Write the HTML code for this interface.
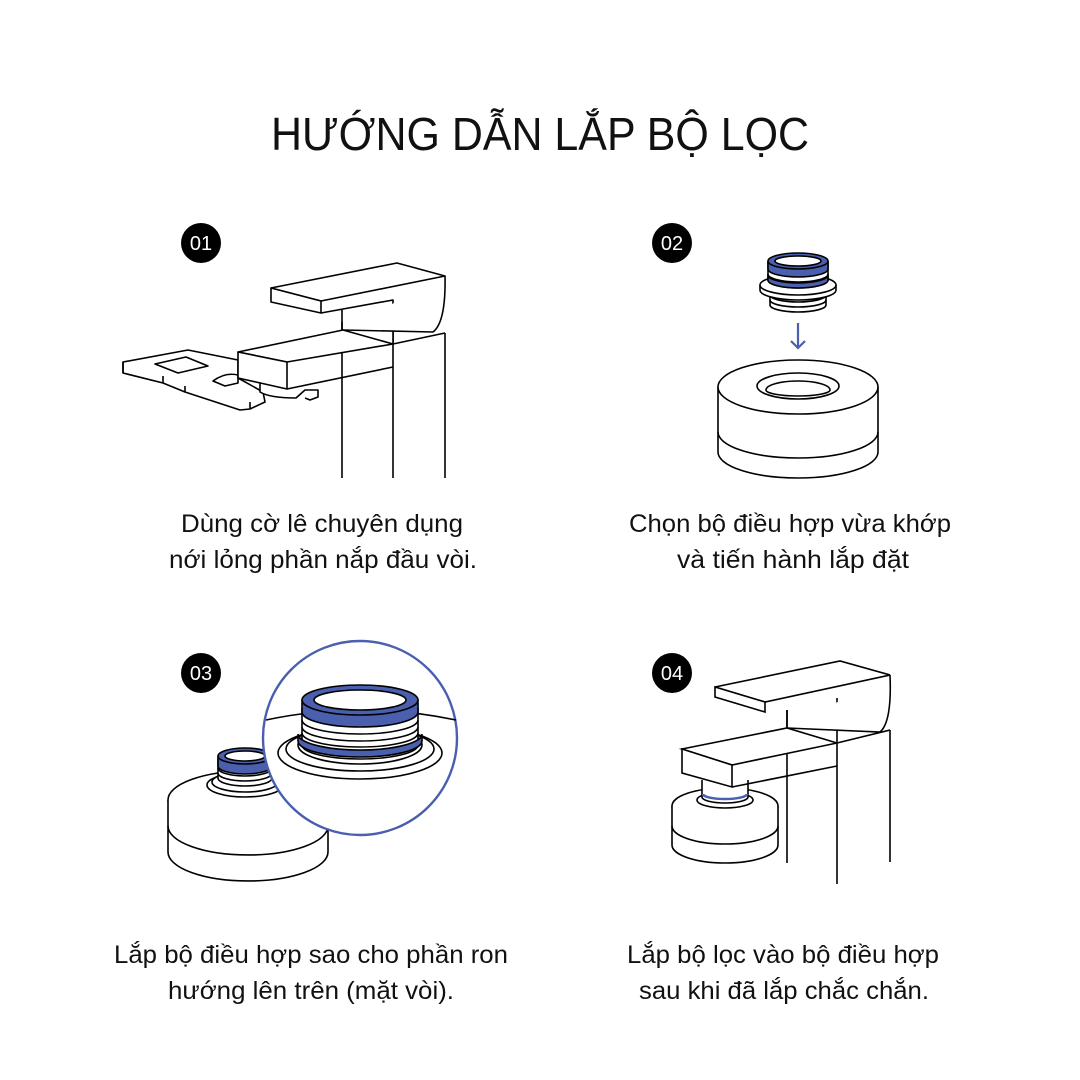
<!DOCTYPE html>
<html><head><meta charset="utf-8"><style>
html,body{margin:0;padding:0;background:#fff;}
svg{display:block}
text{font-family:"Liberation Sans","DejaVu Sans",sans-serif;fill:#111}
</style></head><body>
<svg width="1080" height="1080" viewBox="0 0 1080 1080" xmlns="http://www.w3.org/2000/svg">
<rect width="1080" height="1080" fill="#fff"/>
<text x="540" y="150" font-size="46" text-anchor="middle" textLength="538" lengthAdjust="spacingAndGlyphs">HƯỚNG DẪN LẮP BỘ LỌC</text>

<g font-size="20" text-anchor="middle">
<circle cx="201" cy="243" r="20" fill="#000"/><text x="201" y="250" style="fill:#fff">01</text>
<circle cx="672" cy="243" r="20" fill="#000"/><text x="672" y="250" style="fill:#fff">02</text>
<circle cx="201" cy="673" r="20" fill="#000"/><text x="201" y="680" style="fill:#fff">03</text>
<circle cx="672" cy="673" r="20" fill="#000"/><text x="672" y="680" style="fill:#fff">04</text>
</g>

<g fill="#fff" stroke="#000" stroke-width="1.6" stroke-linejoin="round">
<!-- STEP 1 faucet -->
<line x1="342" y1="310" x2="342" y2="478"/>
<line x1="393" y1="315" x2="393" y2="478"/>
<line x1="445" y1="333" x2="445" y2="478"/>
<path d="M393 344 L445 333"/>
<path d="M321 313 L393 300 L393 344"/>
<path d="M445 276 Q446 322 433 332 L343 330"/>
<path d="M342 310 L342 330"/>
<polygon points="271,288 397,263 445,276 321,301"/>
<polygon points="271,288 321,301 321,313 271,302"/>
<!-- wrench -->
<path d="M123 362 L188 350 L238 360 L238 378 L263 392 L265 402 L250 409 L240 410 L185 392 L163 383 L123 373 Z"/>
<path d="M123 362 L123 373 M163 376 L163 383 M185 386 L185 392 M250 402 L250 409"/>
<polygon points="155,364 186,357 208,366 178,373"/>
<path d="M213 381 Q225 372 238 375 L238 383 L225 386 Z"/>
<path d="M260 383 L260 392 Q270 398 296 398 L305 390 L318 390 L318 397 L310 400 L305 398"/>
<polygon points="238,352 343,330 393,344 287,362"/>
<polygon points="238,352 287,362 287,389 238,378"/>
<path d="M287 389 L393 367"/>

<!-- STEP 2 puck -->
<path d="M718 387 L718 452 A80 26 0 0 0 878 452 L878 387"/>
<path d="M718 432 A80 26 0 0 0 878 432" fill="none"/>
<ellipse cx="798" cy="387" rx="80" ry="27"/>
<ellipse cx="798" cy="386" rx="41" ry="13"/>
<path d="M766 390 A32 9 0 0 1 830 390 A32 6 0 0 1 766 390 Z"/>
<!-- adapter -->
<path d="M770 290 L770 305 A28 7 0 0 0 826 305 L826 290"/>
<path d="M770 295 A28 7 0 0 0 826 295 M770 300 A28 7 0 0 0 826 300" fill="none"/>
<path d="M760 285 L760 290 A38 10 0 0 0 836 290 L836 285"/>
<ellipse cx="798" cy="285" rx="38" ry="10"/>
<path d="M768 262 L768 280 A30 8 0 0 0 828 280 L828 262"/>
<path d="M768 274 A30 8 0 0 0 828 274 M768 277 A30 8 0 0 0 828 277" fill="none"/>
<path d="M768 275 A30 8 0 0 0 828 275 L828 280 A30 8 0 0 1 768 280 Z" fill="#4a5fae"/>
<path d="M768 261 L768 269 A30 8 0 0 0 828 269 L828 261" fill="#4a5fae"/>
<ellipse cx="798" cy="261" rx="30" ry="8" fill="#4a5fae"/>
<ellipse cx="798" cy="261" rx="23" ry="5"/>
</g>
<g stroke="#4a5fae" stroke-width="2.2" fill="none">
<line x1="798" y1="323" x2="798" y2="348"/>
<path d="M791 341 L798 348 L805 341"/>
</g>

<g fill="#fff" stroke="#000" stroke-width="1.6">
<!-- STEP 3 puck -->
<ellipse cx="248" cy="800" rx="80" ry="29"/>
<path d="M168 800 L168 852 A80 29 0 0 0 328 852 L328 800"/>
<path d="M168 826 A80 29 0 0 0 328 826" fill="none"/>
<ellipse cx="245" cy="785" rx="38" ry="12"/>
<ellipse cx="245" cy="782" rx="33" ry="10"/>
<path d="M218 758 L218 778 A27 8 0 0 0 272 778 L272 758"/>
<path d="M218 768 A27 8 0 0 0 272 768 M218 773 A27 8 0 0 0 272 773" fill="none"/>
<path d="M218 756 L218 766 A27 8 0 0 0 272 766 L272 756" fill="#4a5fae"/>
<ellipse cx="245" cy="756" rx="27" ry="8" fill="#4a5fae"/>
<ellipse cx="245" cy="756" rx="20" ry="5"/>
<!-- magnifier -->
<circle cx="360" cy="738" r="97" stroke="#4a5fae" stroke-width="2.4"/>
<path d="M266 720 Q360 700 456 720" fill="none"/>
<ellipse cx="360" cy="753" rx="82" ry="26"/>
<ellipse cx="360" cy="749" rx="74" ry="22"/>
<ellipse cx="360" cy="745" rx="62" ry="19"/>
<path d="M302 708 L302 745 A58 14 0 0 0 418 745 L418 708"/>
<path d="M302 720 A58 14 0 0 0 418 720 M302 727 A58 14 0 0 0 418 727 M302 733 A58 14 0 0 0 418 733" fill="none"/>
<path d="M298 734 A62 16 0 0 0 422 734 L422 741 A62 16 0 0 1 298 741 Z" fill="#4a5fae"/>
<path d="M302 700 L302 712 A58 15 0 0 0 418 712 L418 700" fill="#4a5fae"/>
<ellipse cx="360" cy="700" rx="58" ry="15" fill="#4a5fae"/>
<ellipse cx="360" cy="700" rx="46" ry="10"/>

<!-- STEP 4 faucet -->
<line x1="787" y1="710" x2="787" y2="863"/>
<line x1="837" y1="698" x2="837" y2="884"/>
<line x1="890" y1="730" x2="890" y2="862"/>
<path d="M837 743 L890 730"/>
<path d="M890 675 Q892 722 880 732 L787 728"/>
<path d="M787 710 L787 728"/>
<polygon points="715,687 840,661 890,675 765,702"/>
<polygon points="715,687 765,702 765,712 715,697"/>
<ellipse cx="725" cy="806" rx="53" ry="18"/>
<path d="M672 806 L672 845 A53 18 0 0 0 778 845 L778 806"/>
<path d="M672 826 A53 18 0 0 0 778 826" fill="none"/>
<ellipse cx="725" cy="800" rx="28" ry="8"/>
<path d="M702 780 L702 797 A23 6 0 0 0 748 797 L748 780"/>
<path d="M703 794 A22 5 0 0 0 747 794" stroke="#4a5fae" stroke-width="2.5" fill="none"/>
<polygon points="682,749 787,728 837,743 732,765"/>
<polygon points="682,749 732,765 732,787 682,773"/>
<path d="M732 787 L837 766"/>
</g>

<g font-size="25" text-anchor="middle">
<text x="322" y="532" textLength="282" lengthAdjust="spacingAndGlyphs">Dùng cờ lê chuyên dụng</text>
<text x="323" y="568" textLength="308" lengthAdjust="spacingAndGlyphs">nới lỏng phần nắp đầu vòi.</text>
<text x="790" y="532" textLength="322" lengthAdjust="spacingAndGlyphs">Chọn bộ điều hợp vừa khớp</text>
<text x="793" y="568" textLength="232" lengthAdjust="spacingAndGlyphs">và tiến hành lắp đặt</text>
<text x="311" y="963" textLength="394" lengthAdjust="spacingAndGlyphs">Lắp bộ điều hợp sao cho phần ron</text>
<text x="311" y="999" textLength="286" lengthAdjust="spacingAndGlyphs">hướng lên trên (mặt vòi).</text>
<text x="783" y="963" textLength="312" lengthAdjust="spacingAndGlyphs">Lắp bộ lọc vào bộ điều hợp</text>
<text x="784" y="999" textLength="290" lengthAdjust="spacingAndGlyphs">sau khi đã lắp chắc chắn.</text>
</g>
</svg>
</body></html>
